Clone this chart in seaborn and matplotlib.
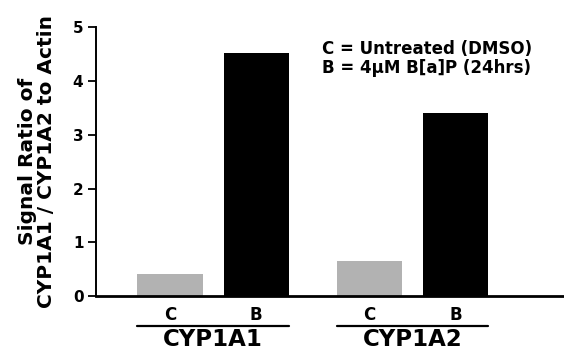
import pandas as pd
import seaborn as sns
import matplotlib.pyplot as plt
import matplotlib.transforms as mtransforms

# values
genes = ["CYP1A1", "CYP1A1", "CYP1A2", "CYP1A2"]
treatments = ["C", "B", "C", "B"]
ratios = [0.41, 4.52, 0.65, 3.40]
legend_lines = ["C = Untreated (DMSO)", "B = 4\u00b5M B[a]P (24hrs)"]

df = pd.DataFrame({"gene": genes, "treatment": treatments, "ratio": ratios})

sns.set_style("ticks")
plt.rcParams['font.family'] = ['DejaVu Sans']
plt.rcParams['font.weight'] = 'bold'
plt.rcParams['text.color'] = 'black'
plt.rcParams['axes.labelcolor'] = 'black'
plt.rcParams['xtick.color'] = 'black'
plt.rcParams['ytick.color'] = 'black'
plt.rcParams['axes.edgecolor'] = 'black'

fig = plt.figure(figsize=(5.64, 3.53), dpi=100)
ax = fig.add_axes([0.170, 0.161, 0.83, 0.7625])

sns.barplot(data=df, x="gene", y="ratio", hue="treatment",
            hue_order=["C", "B"], palette={"C": "#b2b2b2", "B": "black"},
            width=0.864, gap=0.244, saturation=1, edgecolor="none",
            legend=False, ax=ax)

ax.set_xlim(-0.588, 1.76)
ax.set_ylim(0, 5)
ax.set_yticks([0, 1, 2, 3, 4, 5])
ax.tick_params(axis="y", labelsize=11, length=6, width=1.3, pad=3)
for t in ax.get_yticklabels():
    t.set_fontweight("bold")
ax.set_xticks([])
ax.set_xlabel("")
ax.set_ylabel("Signal Ratio of\nCYP1A1 / CYP1A2 to Actin", fontsize=14.5,
              fontweight="bold", labelpad=12, linespacing=1.0)
sns.despine(ax=ax)
ax.spines["left"].set_linewidth(1.4)
ax.spines["bottom"].set_linewidth(2.0)

# C / B labels under each bar, plus a line and the gene name under each group
trans = mtransforms.blended_transform_factory(ax.transData, ax.transAxes)
bars = sorted(ax.patches, key=lambda p: p.get_x())
for p, lab in zip(bars, treatments):
    ax.text(p.get_x() + p.get_width() / 2, -0.035, lab, transform=trans,
            ha="center", va="top", fontsize=12, fontweight="bold")
for i in range(0, len(bars), 2):
    x0 = bars[i].get_x()
    x1 = bars[i + 1].get_x() + bars[i + 1].get_width()
    ax.plot([x0, x1], [-0.11, -0.11], color="black", lw=1.6,
            transform=trans, clip_on=False)
    ax.text((x0 + x1) / 2, -0.12, genes[i], transform=trans, ha="center",
            va="top", fontsize=16.5, fontweight="bold")

ax.text(0.482, 0.95, "\n".join(legend_lines), transform=ax.transAxes,
        ha="left", va="top", fontsize=12, fontweight="bold",
        linespacing=1.05)

plt.savefig("out.png", dpi=100)
